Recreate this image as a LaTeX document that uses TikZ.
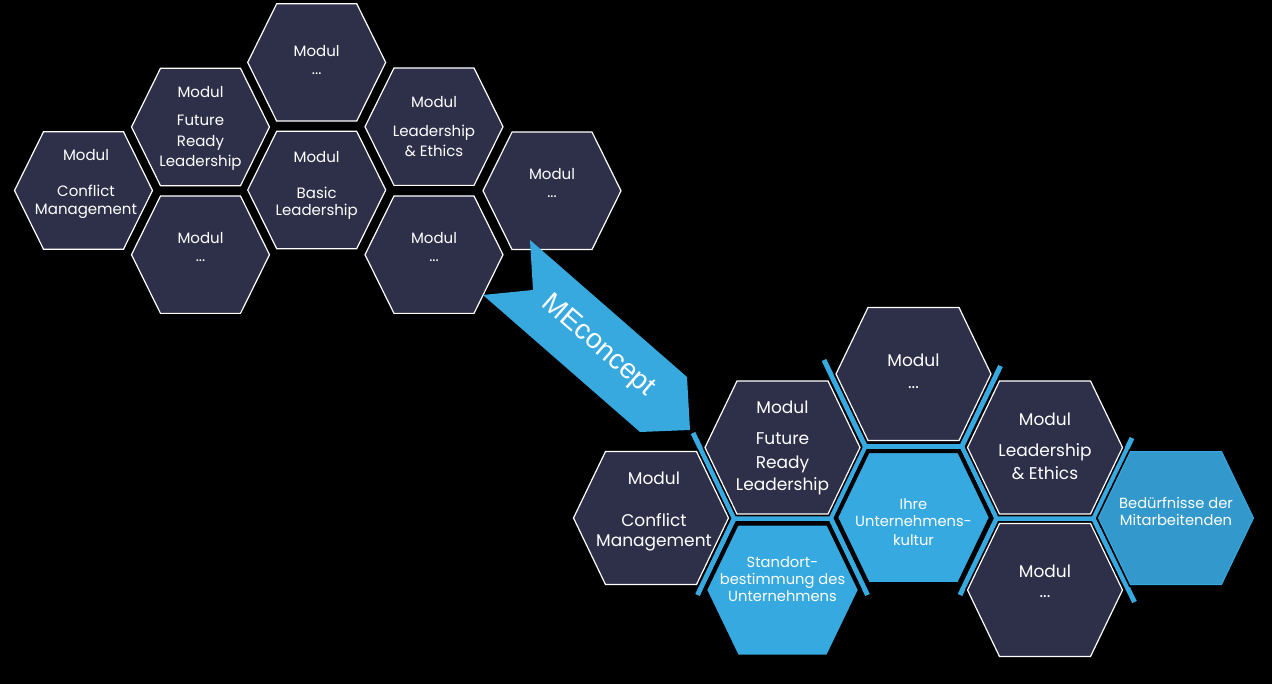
\documentclass[tikz,border=0pt]{standalone}
\usepackage{fontspec}
\setmainfont{Poppins}
\newfontfamily\arialfont{Liberation Sans}
\definecolor{hexdark}{HTML}{2E304A}
\definecolor{hexblue}{HTML}{36A9E1}
\definecolor{hexblueB}{HTML}{3399CC}
\definecolor{arrowblue}{HTML}{38A9DF}
\newcommand\hexagonpath[6]{%
  \path[#1] ({#2-#4},{#3}) -- ({#2-#5},{#3-#6}) -- ({#2+#5},{#3-#6}) -- ({#2+#4},{#3}) -- ({#2+#5},{#3+#6}) -- ({#2-#5},{#3+#6}) -- cycle;}
\newcommand\hexL[3]{\hexagonpath{#1}{#2}{#3}{69}{40}{58.7}}
\newcommand\hexR[3]{\hexagonpath{#1}{#2}{#3}{77.5}{45.5}{66.5}}
\begin{document}
\begin{tikzpicture}[x=1pt,y=-1pt,
  txtL/.style={text=white, font=\fontsize{15}{17}\selectfont, anchor=base, inner sep=0pt},
  txtR/.style={text=white, font=\fontsize{17}{19}\selectfont, anchor=base, inner sep=0pt},
  txtB/.style={text=white, font=\fontsize{14.7}{16}\selectfont, anchor=base, inner sep=0pt},
  hexleft/.style={fill=hexdark, draw=white, line width=1.2pt},
  hexdarkR/.style={fill=hexdark, draw=white, line width=1.2pt, preaction={draw=black, line width=4.5pt}},
  hexblueR/.style={fill=hexblue, draw=black, line width=4pt},
  hexblueS/.style={fill=hexblueB, draw=hexblue, line width=1pt, preaction={draw=black, line width=4.5pt}},
  sepline/.style={draw=hexblue, line width=5pt, line join=miter},
  arrowshape/.style={fill=arrowblue}]
% background
\path[fill=black] (0,0) rectangle (1272,684);

% ---------- separator lines (right cluster) ----------
\coordinate (j01) at (734.2,518.5);
\coordinate (j12a) at (865.3,446.3);
\coordinate (j12b) at (830.7,518.3);
\coordinate (j23a) at (961.8,446.3);
\coordinate (j23b) at (996.7,518.3);
\coordinate (j34) at (1093.2,518.5);
\coordinate (ea1) at (693,433);
\coordinate (ea2) at (697.5,595);
\coordinate (eb1) at (824,360);
\coordinate (eb2) at (867.5,595);
\coordinate (ec1) at (1000.5,366);
\coordinate (ec2) at (960,595);
\coordinate (ed1) at (1132,438);
\coordinate (ed2) at (1134.5,602);
\draw[sepline] (ea1) -- (j01) -- (ea2);
\draw[sepline] (j01) -- (j12b);
\draw[sepline] (eb1) -- (j12a) -- (j12b) -- (eb2);
\draw[sepline] (j12a) -- (j23a);
\draw[sepline] (ec1) -- (j23a) -- (j23b) -- (ec2);
\draw[sepline] (j23b) -- (j34);
\draw[sepline] (ed1) -- (j34) -- (ed2);

% ---------- right cluster hexagons ----------
\hexR{hexdarkR}{651}{518}
\hexR{hexdarkR}{782.5}{447.5}
\hexR{hexblueR}{782.5}{590}
\hexR{hexdarkR}{913.5}{374}
\hexR{hexblueR}{913.5}{517.5}
\hexR{hexdarkR}{1045}{447.5}
\hexR{hexdarkR}{1045}{590}
\hexR{hexblueS}{1176}{518}

% ---------- left cluster hexagons ----------
\hexL{hexleft}{83.5}{190.5}
\hexL{hexleft}{200.5}{127}
\hexL{hexleft}{200.5}{254.7}
\hexL{hexleft}{316.7}{62.4}
\hexL{hexleft}{316.7}{190}
\hexL{hexleft}{434}{126.7}
\hexL{hexleft}{434}{254.7}
\hexL{hexleft}{552}{190.8}

% ---------- arrow ----------
\path[arrowshape] (530,240) -- (687,377) -- (690,430) -- (640,432) -- (483,295) -- (533,290) -- cycle;
\node[rotate=-41, text=white, font=\arialfont\fontsize{28}{30}\selectfont, inner sep=0pt] (mec) at (598,346) {MEconcept};

% ---------- left texts ----------
\node[txtL] (lcm1) at (86,160.8) {Modul};
\node[txtL] (lcm2) at (86,196.8) {Conflict};
\node[txtL] (lcm3) at (86,214.4) {Management};
\node[txtL] (lfr1) at (200.5,97.4) {Modul};
\node[txtL] (lfr2) at (200.5,125.1) {Future};
\node[txtL] (lfr3) at (200.5,146.1) {Ready};
\node[txtL] (lfr4) at (200.5,166.1) {Leadership};
\node[txtL] (lma1) at (200.5,243.1) {Modul};
\node[txtL] (lma2) at (200.5,261.5) {...};
\node[txtL] (lmb1) at (316.7,56.8) {Modul};
\node[txtL] (lmb2) at (316.7,75) {...};
\node[txtL] (lbl1) at (316.7,162.1) {Modul};
\node[txtL] (lbl2) at (316.7,198.4) {Basic};
\node[txtL] (lbl3) at (316.7,215.8) {Leadership};
\node[txtL] (lle1) at (434,107.8) {Modul};
\node[txtL] (lle2) at (434,136.1) {Leadership};
\node[txtL] (lle3) at (434,156.8) {\&~Ethics};
\node[txtL] (lmc1) at (434,243.1) {Modul};
\node[txtL] (lmc2) at (434,261.5) {...};
\node[txtL] (lmd1) at (552,179.1) {Modul};
\node[txtL] (lmd2) at (552,197.2) {...};

% ---------- right texts ----------
\node[txtR] (rcm1) at (654,484.3) {Modul};
\node[txtR] (rcm2) at (654,526) {Conflict};
\node[txtR] (rcm3) at (654,546) {Management};
\node[txtR] (rfr1) at (782.5,413.3) {Modul};
\node[txtR] (rfr2) at (782.5,444.3) {Future};
\node[txtR] (rfr3) at (782.5,468.3) {Ready};
\node[txtR] (rfr4) at (782.5,490.3) {Leadership};
\node[txtR] (rma1) at (913.5,367) {Modul};
\node[txtR] (rma2) at (913.5,388.5) {...};
\node[txtR] (rle1) at (1045,425) {Modul};
\node[txtR] (rle2) at (1045,456.7) {Leadership};
\node[txtR] (rle3) at (1045,479.3) {\&~Ethics};
\node[txtR] (rmb1) at (1045,577.7) {Modul};
\node[txtR] (rmb2) at (1045,597.8) {...};
\node[txtB] (rst1) at (782.5,567.3) {Standort-};
\node[txtB] (rst2) at (782.5,584.3) {bestimmung des};
\node[txtB] (rst3) at (782.5,601.7) {Unternehmens};
\node[txtB] (rih1) at (913.5,509.3) {Ihre};
\node[txtB] (rih2) at (913.5,526.7) {Unternehmens-};
\node[txtB] (rih3) at (913.5,545) {kultur};
\node[txtB] (rbe1) at (1176,508.3) {Bedürfnisse der};
\node[txtB] (rbe2) at (1176,525.7) {Mitarbeitenden};
\end{tikzpicture}
\end{document}
